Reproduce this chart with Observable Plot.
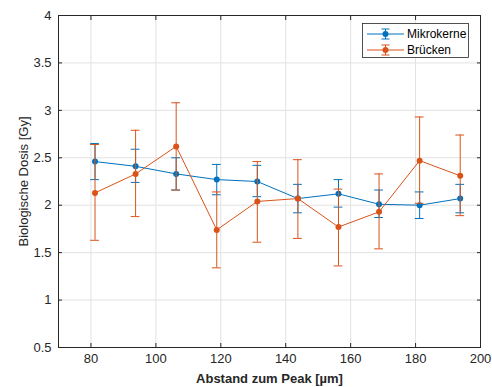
<!DOCTYPE html>
<html>
<head>
<meta charset="utf-8">
<script src="https://cdn.jsdelivr.net/npm/d3@7"></script>
<script src="https://cdn.jsdelivr.net/npm/@observablehq/plot@0.6"></script>
<style>
  html, body { margin: 0; padding: 0; background: #fff; }
  #chart { position: relative; width: 492px; height: 387px; }
  svg { font-family: "Liberation Sans", Arial, sans-serif; }
  g[aria-label="x-axis label"] text { font-weight: bold; }
</style>
</head>
<body>
<div id="chart"></div>
<script>
const distance = [81.25, 93.75, 106.25, 118.75, 131.25, 143.75, 156.25, 168.75, 181.25, 193.75];

const mikroMean  = [2.46, 2.41, 2.33, 2.27, 2.25, 2.07, 2.12, 2.01, 2.00, 2.07];
const mikroLow   = [2.27, 2.24, 2.16, 2.11, 2.09, 1.92, 1.98, 1.87, 1.86, 1.92];
const mikroHigh  = [2.65, 2.59, 2.50, 2.43, 2.42, 2.22, 2.27, 2.16, 2.14, 2.22];

const brueckMean = [2.13, 2.33, 2.62, 1.74, 2.04, 2.07, 1.77, 1.93, 2.47, 2.31];
const brueckLow  = [1.63, 1.88, 2.16, 1.34, 1.61, 1.65, 1.36, 1.54, 2.02, 1.89];
const brueckHigh = [2.64, 2.79, 3.08, 2.14, 2.46, 2.48, 2.17, 2.33, 2.93, 2.74];

const xTicks = [80, 100, 120, 140, 160, 180, 200];
const yTicks = [0.5, 1, 1.5, 2, 2.5, 3, 3.5, 4];
const seriesNames = ["Mikrokerne", "Brücken"];
const colors = ["#0072BD", "#D95319"];

const capHalf = 1.35; // cap half-width in x data units

function build(mean, low, high) {
  return distance.map((d, i) => ({x: d, y: mean[i], lo: low[i], hi: high[i], x1: d - capHalf, x2: d + capHalf}));
}
const series = [build(mikroMean, mikroLow, mikroHigh), build(brueckMean, brueckLow, brueckHigh)];

function seriesMarks(data, color) {
  return [
    Plot.ruleX(data, {x: "x", y1: "lo", y2: "hi", stroke: color, strokeWidth: 1}),
    Plot.ruleY(data, {y: "lo", x1: "x1", x2: "x2", stroke: color, strokeWidth: 1}),
    Plot.ruleY(data, {y: "hi", x1: "x1", x2: "x2", stroke: color, strokeWidth: 1}),
    Plot.line(data, {x: "x", y: "y", stroke: color, strokeWidth: 1}),
    Plot.dot(data, {x: "x", y: "y", r: 3, fill: color, stroke: "none"})
  ];
}

const chart = Plot.plot({
  width: 492,
  height: 387,
  marginLeft: 58,
  marginRight: 12,
  marginTop: 15,
  marginBottom: 40,
  style: {fontSize: "13px", color: "#262626", fontFamily: "'Liberation Sans', Arial, sans-serif"},
  x: {domain: [70, 200]},
  y: {domain: [0.5, 4]},
  marks: [
    Plot.gridX(xTicks, {stroke: "#e2e2e2", strokeOpacity: 1, strokeWidth: 1}),
    Plot.gridY(yTicks, {stroke: "#e2e2e2", strokeOpacity: 1, strokeWidth: 1}),
    Plot.axisX(xTicks, {anchor: "bottom", tickSize: -4, tickPadding: 10, label: "Abstand zum Peak [µm]", labelAnchor: "center", labelArrow: false, labelOffset: 35, stroke: "#262626", fill: "#262626"}),
    Plot.axisX(xTicks, {anchor: "top", tickSize: -4, tickFormat: () => "", label: null, stroke: "#262626"}),
    Plot.axisY(yTicks, {anchor: "left", tickSize: -4, tickPadding: 11, tickFormat: d => String(d), label: "Biologische Dosis [Gy]", labelAnchor: "center", labelArrow: false, labelOffset: 40, stroke: "#262626", fill: "#262626"}),
    Plot.axisY(yTicks, {anchor: "right", tickSize: -4, tickFormat: () => "", label: null, stroke: "#262626"}),
    Plot.frame({stroke: "#262626", strokeWidth: 1}),
    ...seriesMarks(series[0], colors[0]),
    ...seriesMarks(series[1], colors[1])
  ]
});

document.getElementById("chart").appendChild(chart);

// Legend (drawn into the SVG in pixel space)
const svg = d3.select(chart);
const lg = svg.append("g").attr("class", "legend").attr("text-anchor", "start");
lg.append("rect").attr("x", 362.5).attr("y", 23.5).attr("width", 106).attr("height", 34)
  .style("fill", "#fff").style("stroke", "#262626").style("stroke-width", "0.8px");
seriesNames.forEach((name, i) => {
  const cy = 34 + i * 16;
  const g = lg.append("g").attr("transform", `translate(0,${cy})`);
  const ln = (x1, x2, y1, y2) => g.append("line").attr("x1", x1).attr("x2", x2).attr("y1", y1).attr("y2", y2)
    .style("stroke", colors[i]).style("stroke-width", "1px");
  ln(367, 404, 0, 0);
  ln(385.5, 385.5, -5, 5);
  ln(381.5, 389.5, -5, -5);
  ln(381.5, 389.5, 5, 5);
  g.append("circle").attr("cx", 385.5).attr("cy", 0).attr("r", 3).style("fill", colors[i]).style("stroke", "none");
  g.append("text").attr("x", 407).attr("y", 0).attr("dy", "0.35em")
    .style("font-size", "12px").style("fill", "#000").style("text-anchor", "start").text(name);
});
</script>
</body>
</html>
